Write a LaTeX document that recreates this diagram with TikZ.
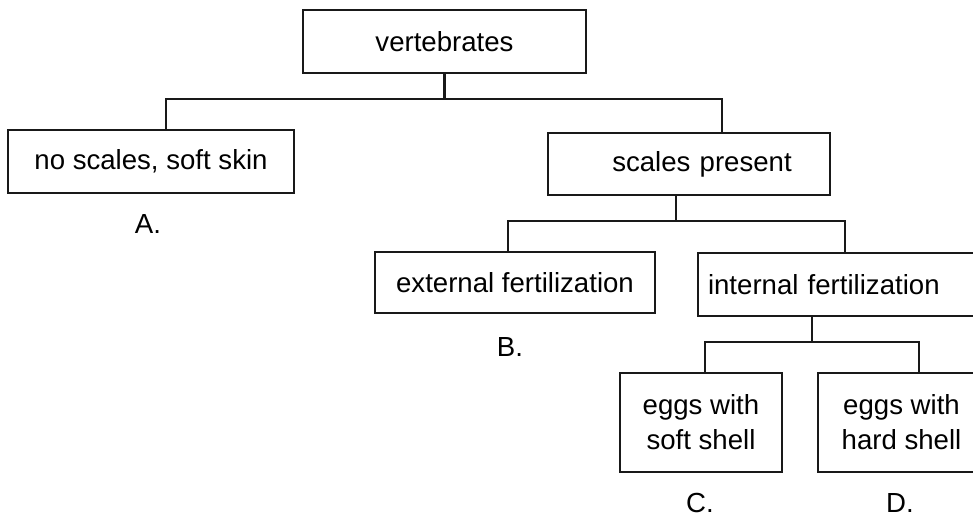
\documentclass[tikz,border=0pt]{standalone}
\usepackage{fontspec}
\setmainfont{Liberation Sans}
\begin{document}
\begin{tikzpicture}[x=1pt,y=-1pt,
  box/.style={draw=black!90, line width=2.2pt, inner sep=0pt, font=\fontsize{27.6}{35}\selectfont},
  lbl/.style={inner sep=0pt, font=\fontsize{27.6}{35}\selectfont},
  conn/.style={draw=black!90, line width=2.2pt}]
\useasboundingbox (0,0) rectangle (973,521);
\clip (0,0) rectangle (973,521);
\fill[white] (0,0) rectangle (973,521);
\node[box, minimum width=283pt, minimum height=63pt] (vert) at (444.5,41.5) {vertebrates};
\node[box, minimum width=286pt, minimum height=63pt] (nos) at (151,161.5) {no scales, soft skin};
\node[box, minimum width=282pt, minimum height=62pt, text width=282pt, align=center] (sp) at (689,164) {\hspace*{26pt}scales present};
\node[box, minimum width=280pt, minimum height=61pt] (ext) at (515,282.5) {external fertilization};
\node[box, minimum width=302pt, minimum height=63pt, text width=282pt, inner xsep=10pt, align=left] (int) at (849,284.5) {internal fertilization};
\node[box, minimum width=162pt, minimum height=99pt, align=center] (soft) at (701,422.5) {eggs with\\soft shell};
\node[box, minimum width=167pt, minimum height=99pt, align=center] (hard) at (901.5,422.5) {eggs with\\hard shell};
\node[lbl] (la) at (148,224) {A.};
\node[lbl] (lb) at (510,347) {B.};
\node[lbl] (lc) at (700,503) {C.};
\node[lbl] (ld) at (900,503) {D.};
\coordinate (j1) at (445,99);
\coordinate (j2) at (676,221);
\coordinate (j3) at (812,342);
\draw[conn] (vert.south) -- (vert.south |- j1);
\draw[conn] ([xshift=15pt]nos.north) |- (j1) -| ([xshift=33pt]sp.north);
\draw[conn] ([xshift=-13pt]sp.south) -- ([xshift=-13pt]sp.south |- j2);
\draw[conn] ([xshift=-7pt]ext.north) |- (j2) -| ([xshift=-4pt]int.north);
\draw[conn] ([xshift=-37pt]int.south) -- ([xshift=-37pt]int.south |- j3);
\draw[conn] ([xshift=4pt]soft.north) |- (j3) -| ([xshift=17.5pt]hard.north);
\end{tikzpicture}
\end{document}
